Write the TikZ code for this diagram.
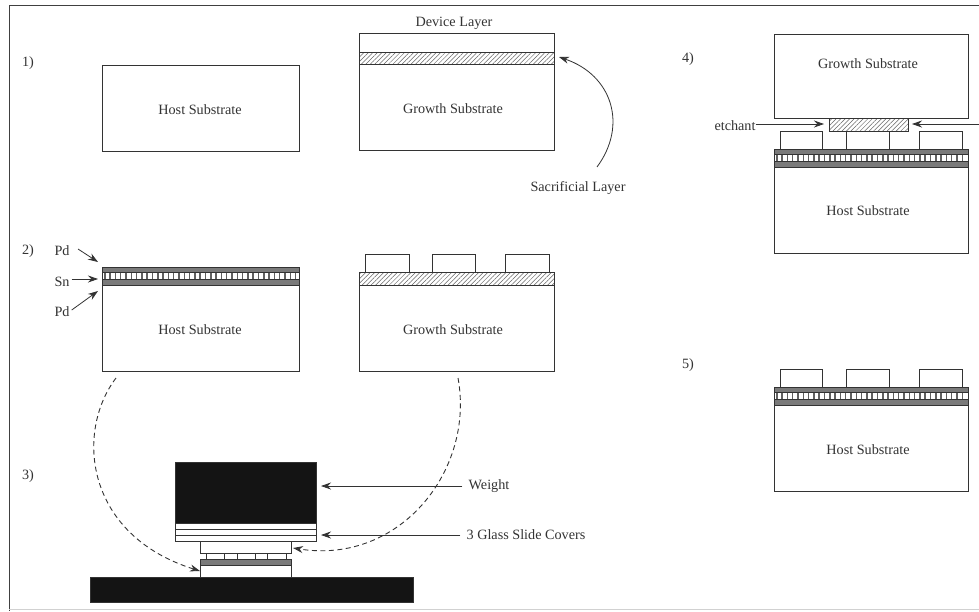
\documentclass[tikz,border=0pt]{standalone}
\usepackage{fontspec}
\setmainfont{Liberation Serif}
\usetikzlibrary{arrows.meta,patterns.meta}
\definecolor{ink}{gray}{0.2}
\tikzset{
  bx/.style={draw=ink,line width=0.9pt,fill=white},
  hatchbx/.style={draw=ink,line width=0.9pt,pattern={Lines[angle=45,distance=3.2pt,line width=0.5pt]},pattern color=ink!75},
  pd/.style={draw=ink,line width=0.8pt,fill=black!52},
  solidblk/.style={draw=ink,fill=black!92,line width=0.6pt},
  lbl/.style={font=\fontsize{14.2pt}{16pt}\selectfont,text=ink,inner sep=0pt},
  arr/.style={draw=ink,line width=0.8pt,-{Stealth[length=10pt,width=7pt]}},
  dasharr/.style={arr,dash pattern=on 5pt off 3.5pt,line width=0.9pt}
}
\newcommand{\hatchlayer}[4]{\filldraw[hatchbx] (#1,#2) rectangle (#3,#4);}
\newcommand{\metalstack}[3]{% x1,x2,top y
  \path[pd] (#1,#3) rectangle (#2,#3+18);
  \fill[white] (#1+0.5,#3+5.5) rectangle (#2-0.5,#3+12.5);
  \pgfmathsetmacro{\cellx}{#1+2}
  \pgfmathsetmacro{\celln}{floor((#2-#1-4)/5.3)}
  \foreach \k in {0,...,\celln}{
    \fill[black!62] ({\cellx+\k*5.3},#3+5.5) rectangle ({\cellx+\k*5.3+1.5},#3+12.5);
  }
  \draw[ink,line width=0.6pt] (#1,#3+5.5) -- (#2,#3+5.5) (#1,#3+12.5) -- (#2,#3+12.5);
}
\begin{document}
\begin{tikzpicture}[x=1pt,y=-1pt]
\useasboundingbox (0,0) rectangle (979,611);
\fill[white] (0,0) rectangle (979,611);
% frame
\draw[black!75,line width=1pt] (979,5) -- (9,5) -- (9,611);
\draw[black!18,line width=1pt] (9,609.5) -- (979,609.5);

% step labels
\node[lbl] (s1) at (28,63) {1)};
\node[lbl] (s2) at (28,251) {2)};
\node[lbl] (s3) at (28,476) {3)};
\node[lbl] (s4) at (688,59) {4)};
\node[lbl] (s5) at (688,365) {5)};

% --- step 1
\draw[bx] (102,65) rectangle (299,151);
\node[lbl] (h1) at (200,110) {Host Substrate};
\draw[bx] (359,33) rectangle (554,150);
\hatchlayer{359}{52}{554}{64}
\node[lbl] (g1) at (453,109) {Growth Substrate};
\node[lbl] (dev) at (454,23) {Device Layer};
\node[lbl] (sac) at (578,188) {Sacrificial Layer};
\coordinate (sacS) at (597,167);
\coordinate (sacE) at (559,57);
\draw[arr] (sacS) .. controls (628,125) and (612,75) .. (sacE);

% --- step 2
\draw[bx] (102,267) rectangle (299,371);
\metalstack{102}{299}{267}
\node[lbl] (h2) at (200,330) {Host Substrate};
\node[lbl] (pa) at (62,251) {Pd};
\node[lbl] (sn) at (62,282) {Sn};
\node[lbl] (pb) at (62,312) {Pd};
\coordinate (paE) at (98,262);
\coordinate (snE) at (98,279);
\coordinate (pbE) at (98,291);
\draw[arr] (78,249) -- (paE);
\draw[arr] (sn.east)+(2,-3) -- (snE);
\draw[arr] (pb.east)+(2,-2) -- (pbE);
\draw[bx] (359,272) rectangle (554,371);
\hatchlayer{359}{272}{554}{285}
\draw[bx] (365,254) rectangle (409,272);
\draw[bx] (432,254) rectangle (475,272);
\draw[bx] (505,254) rectangle (549,272);
\node[lbl] (g2) at (453,330) {Growth Substrate};

% --- step 3
\draw[solidblk] (175,462) rectangle (316,523);
\draw[bx] (175,523) rectangle (316,541);
\draw[ink,line width=0.9pt] (175,529) -- (316,529) (175,535) -- (316,535);
\draw[bx] (200,541) rectangle (291,553);
\foreach \px in {206,224,237,255,267,286}{\draw[ink,line width=0.8pt] (\px,553) -- (\px,559);}
\draw[bx] (200,559) rectangle (291,577);
\fill[pd] (200,559) rectangle (291,565);
\draw[ink,line width=0.8pt] (200,559) rectangle (291,565);
\draw[solidblk] (90,577) rectangle (413,602);
\node[lbl] (w) at (489,486) {Weight};
\node[lbl] (gl) at (526,535) {3 Glass Slide Covers};
\coordinate (wE) at (321,486);
\coordinate (glE) at (321,535);
\draw[arr] (w.west)+(-6,0) -- (wE);
\draw[arr] (gl.west)+(-6,0) -- (glE);
\coordinate (dlS) at (116,378);
\coordinate (dlE) at (200,571);
\coordinate (drS) at (458,378);
\coordinate (drE) at (293,548);
\draw[dasharr] (dlS) .. controls (75,432) and (85,535) .. (dlE);
\draw[dasharr] (drS) .. controls (475,470) and (400,565) .. (drE);

% --- step 4
\draw[bx] (774,34) rectangle (968,118);
\node[lbl] (g4) at (868,64) {Growth Substrate};
\hatchlayer{829}{118}{908}{131}
\draw[bx] (780,131) rectangle (822,149);
\draw[bx] (846,131) rectangle (889,149);
\draw[bx] (919,131) rectangle (962,149);
\draw[bx] (774,149) rectangle (968,253);
\metalstack{774}{968}{149}
\node[lbl] (h4) at (868,211) {Host Substrate};
\node[lbl] (et) at (735,126) {etchant};
\coordinate (etE) at (824,124);
\coordinate (etR) at (979,124);
\coordinate (etRE) at (912,124);
\draw[arr] (et.east)+(0,-2) -- (etE);
\draw[arr] (etR) -- (etRE);

% --- step 5
\draw[bx] (780,369) rectangle (822,387);
\draw[bx] (846,369) rectangle (889,387);
\draw[bx] (919,369) rectangle (962,387);
\draw[bx] (774,387) rectangle (968,491);
\metalstack{774}{968}{387}
\node[lbl] (h5) at (868,450) {Host Substrate};
\end{tikzpicture}
\end{document}
